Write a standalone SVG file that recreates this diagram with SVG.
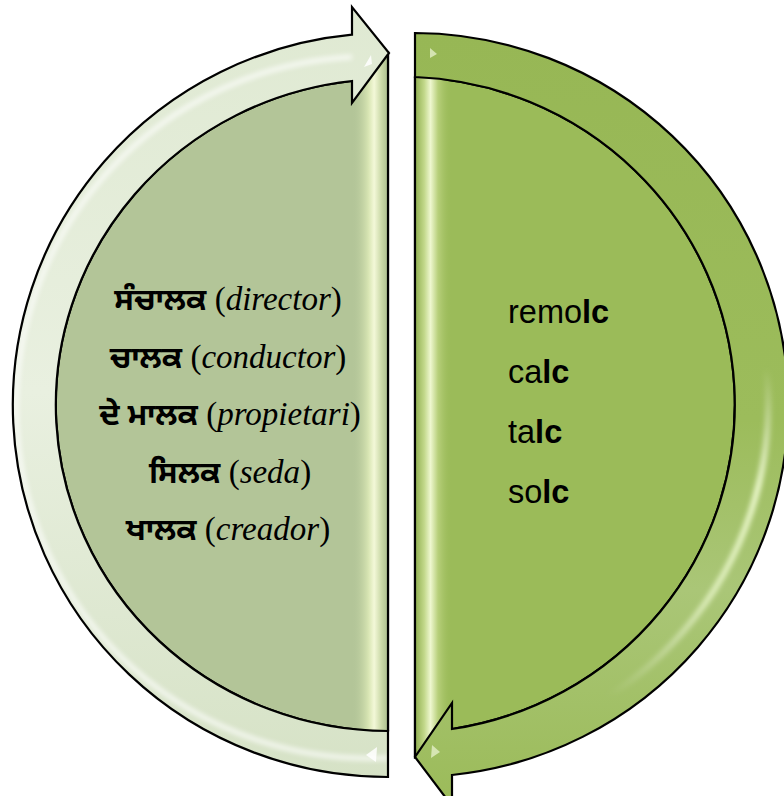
<svg xmlns="http://www.w3.org/2000/svg" width="784" height="796" viewBox="0 0 784 796">
<defs>
<style>
.edge{stroke:#000;stroke-width:2.2;stroke-linejoin:miter}
.pa{font-family:"Noto Sans Gurmukhi","Lohit Gurmukhi","Raavi","Noto Sans",sans-serif;font-weight:bold;font-size:31px}
.lt{font-family:"Liberation Serif","Times New Roman",serif;font-size:33px}
.it{font-style:italic}
.rt{font-family:"Liberation Sans",Arial,sans-serif;font-size:32.5px;fill:#000}
.b{font-weight:bold}
.hl{fill:#fff;opacity:0.85}
</style>
<linearGradient id="gLB" x1="0" y1="0" x2="0" y2="1">
<stop offset="0" stop-color="#dfe9d2"/>
<stop offset="0.5" stop-color="#e9f0e0"/>
<stop offset="1" stop-color="#d6e2c6"/>
</linearGradient>
<linearGradient id="gRB" x1="0" y1="0" x2="0" y2="1">
<stop offset="0" stop-color="#97b755"/>
<stop offset="0.5" stop-color="#9cbc5b"/>
<stop offset="0.72" stop-color="#aac677"/>
<stop offset="1" stop-color="#9bbb59"/>
</linearGradient>
<linearGradient id="gLS" x1="352" y1="0" x2="389" y2="0" gradientUnits="userSpaceOnUse">
<stop offset="0" stop-color="#b3c598" stop-opacity="0"/>
<stop offset="0.45" stop-color="#d9e6b4"/>
<stop offset="0.6" stop-color="#f3f8d8"/>
<stop offset="0.8" stop-color="#c9d8a6"/>
<stop offset="1" stop-color="#a6b98a"/>
</linearGradient>
<linearGradient id="gRS" x1="415" y1="0" x2="452" y2="0" gradientUnits="userSpaceOnUse">
<stop offset="0" stop-color="#8fae4f"/>
<stop offset="0.25" stop-color="#c2d88a"/>
<stop offset="0.42" stop-color="#eef7cf"/>
<stop offset="0.62" stop-color="#b8d07c"/>
<stop offset="1" stop-color="#9bbb59" stop-opacity="0"/>
</linearGradient>
<linearGradient id="gRH" x1="0" y1="0" x2="0" y2="1">
<stop offset="0" stop-color="#ffffff" stop-opacity="0"/>
<stop offset="0.45" stop-color="#ffffff" stop-opacity="0"/>
<stop offset="0.62" stop-color="#f4ffd8" stop-opacity="0.9"/>
<stop offset="0.78" stop-color="#f4ffd8" stop-opacity="0.7"/>
<stop offset="0.92" stop-color="#ffffff" stop-opacity="0"/>
</linearGradient>
<filter id="blur" x="-10%" y="-10%" width="120%" height="120%"><feGaussianBlur stdDeviation="2.5"/></filter>
<clipPath id="cLB"><path d="M388,777 A375,372 0 0 1 352,34.7 L352,7 L389,53 L352,103 L352,81 A333,326 0 0 0 388,731 Z"/></clipPath>
<clipPath id="cRB"><path d="M415,33 A375,372 0 0 1 452,775 L452,806 L415,757 L452,703 L452,729 A333,328 0 0 0 415,77 Z"/></clipPath>
</defs>

<g id="left-node">
<path d="M388,53 L388,731 A333,326 0 0 1 352,81 Z" fill="#b3c598" class="edge"/>
<rect x="352" y="60" width="36" height="671" fill="url(#gLS)"/>
<line x1="388" y1="53" x2="388" y2="731" class="edge"/>
<path d="M388,777 A375,372 0 0 1 352,34.7 L352,7 L389,53 L352,103 L352,81 A333,326 0 0 0 388,731 Z" fill="url(#gLB)"/>
<g clip-path="url(#cLB)">
<path d="M388,758 A352,349 0 0 1 352,57" fill="none" stroke="#ffffff" stroke-width="5" opacity="0.7" filter="url(#blur)"/>
</g>
<path d="M388,777 A375,372 0 0 1 352,34.7 L352,7 L389,53 L352,103 L352,81 A333,326 0 0 0 388,731 Z" fill="none" class="edge"/>
<polygon class="hl" points="371,55 364,67 372,64"/>
<polygon class="hl" points="377,747 366,755 376,762"/>
<text x="228" y="310" text-anchor="middle"><tspan class="pa">ਸੰਚਾਲਕ</tspan><tspan class="lt"> (<tspan class="it">director</tspan>)</tspan></text>
<text x="228" y="368" text-anchor="middle"><tspan class="pa">ਚਾਲਕ</tspan><tspan class="lt"> (<tspan class="it">conductor</tspan>)</tspan></text>
<text x="230" y="425" text-anchor="middle"><tspan class="pa">ਦੇ ਮਾਲਕ</tspan><tspan class="lt"> (<tspan class="it">propietari</tspan>)</tspan></text>
<text x="230" y="483" text-anchor="middle"><tspan class="pa">ਸਿਲਕ</tspan><tspan class="lt"> (<tspan class="it">seda</tspan>)</tspan></text>
<text x="228" y="540" text-anchor="middle"><tspan class="pa">ਖਾਲਕ</tspan><tspan class="lt"> (<tspan class="it">creador</tspan>)</tspan></text>
</g>

<g id="right-node">
<path d="M415,77 A333,328 0 0 1 452,729 L415,757 Z" fill="#9bbb59" class="edge"/>
<rect x="415" y="77" width="37" height="672" fill="url(#gRS)"/>
<line x1="415" y1="77" x2="415" y2="757" class="edge"/>
<path d="M415,33 A375,372 0 0 1 452,775 L452,806 L415,757 L452,703 L452,729 A333,328 0 0 0 415,77 Z" fill="url(#gRB)"/>
<g clip-path="url(#cRB)">
<path d="M415,54 A354,350 0 0 1 452,752" fill="none" stroke="url(#gRH)" stroke-width="6" filter="url(#blur)"/>
</g>
<path d="M415,33 A375,372 0 0 1 452,775 L452,806 L415,757 L452,703 L452,729 A333,328 0 0 0 415,77 Z" fill="none" class="edge"/>
<polygon points="430,48 437,54 430,58" fill="#e4efc8" opacity="0.8"/>
<polygon points="432,745 440,752 431,758" fill="#e4efc8" opacity="0.8"/>
<text class="rt" x="508" y="323">remo<tspan class="b">lc</tspan></text>
<text class="rt" x="508" y="383">ca<tspan class="b">lc</tspan></text>
<text class="rt" x="508" y="443">ta<tspan class="b">lc</tspan></text>
<text class="rt" x="508" y="503">so<tspan class="b">lc</tspan></text>
</g>

<g id="connectors"></g>
</svg>
